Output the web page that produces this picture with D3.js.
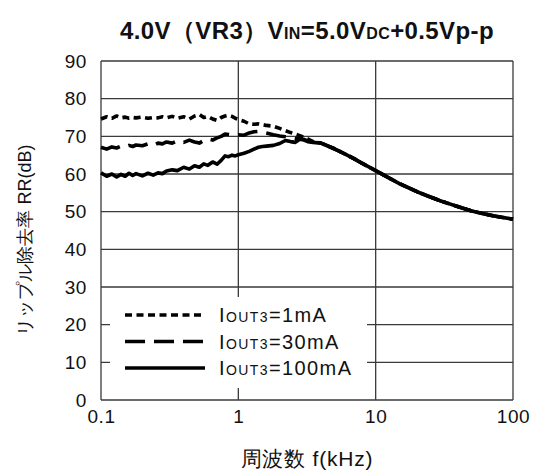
<!DOCTYPE html>
<html><head><meta charset="utf-8">
<script src="https://cdn.jsdelivr.net/npm/d3@7"></script>
<style>html,body{margin:0;padding:0;background:#fff;}svg{display:block;}</style>
</head><body>
<script>
// ---- data ----
const freqKHz = [0.10,0.11,0.12,0.13,0.14,0.15,0.16,0.17,0.18,0.20,0.22,0.24,0.26,0.28,0.30,0.33,0.36,0.40,0.44,0.48,0.52,0.56,0.60,0.65,0.70,0.75,0.80,0.85,0.90,0.95,1.0,1.1,1.2,1.3,1.4,1.5,1.6,1.8,2.0,2.2,2.4,2.6,2.8,3.0,3.2,3.5,4.0,5,6,7,8,10,12,15,20,25,30,40,50,60,70,80,100];
const highTail = [66.7,65.3,64.0,62.8,60.9,59.3,57.4,55.3,53.9,52.8,51.3,50.2,49.5,49.0,48.6,48.0];
const rr1mA = [74.6,75.2,74.8,75.4,74.9,75.1,74.8,75.0,74.9,75.1,74.8,75.0,74.9,75.2,74.9,75.3,74.8,75.2,74.6,75.4,75.8,75.0,75.3,74.6,74.2,75.0,75.4,75.6,75.3,74.8,74.5,74.0,73.3,73.2,73.3,73.1,72.9,72.7,72.1,71.5,71.0,70.6,70.2,69.8,69.3,68.6,68.2].concat(highTail);
const rr30mA = [67.1,66.6,67.2,66.9,67.4,67.2,67.6,67.3,67.7,67.5,68.0,67.6,68.2,68.0,68.5,68.2,68.8,68.4,69.0,68.5,68.2,68.9,69.3,69.0,69.6,70.0,70.6,70.5,70.4,70.3,70.4,70.3,70.9,71.2,71.3,71.1,70.9,70.4,70.1,69.9,69.7,69.5,69.4,69.2,68.8,68.5,68.2].concat(highTail);
const rr100mA = [60.3,59.4,60.0,59.2,59.9,59.4,60.2,59.6,60.1,59.5,60.2,59.7,60.3,60.1,60.8,61.1,60.9,61.8,61.3,62.2,61.8,62.7,62.3,63.2,62.6,63.6,64.8,64.6,65.0,64.8,65.1,65.5,66.0,66.6,67.1,67.3,67.4,67.6,68.1,68.9,68.6,68.4,69.2,69.0,68.6,68.4,68.2].concat(highTail);
const seriesNames = ["1mA","30mA","100mA"];
const xTicks = [0.1,1,10,100];
const xTickLabels = ["0.1","1","10","100"];
const yTicks = [0,10,20,30,40,50,60,70,80,90];

const W = 535, H = 470;
const m = {left:101, right:22, top:61, bottom:70};
const svg = d3.select("body").append("svg").attr("width",W).attr("height",H);
const x = d3.scaleLog().domain([0.1,100]).range([m.left, W-m.right]);
const y = d3.scaleLinear().domain([0,90]).range([H-m.bottom, m.top]);
const font = "'Liberation Sans', Arial, sans-serif";
const gridColor = "#3a3a3a";

// grid
const g = svg.append("g");
g.selectAll("line.h").data(yTicks).join("line")
  .attr("x1",x(0.1)).attr("x2",x(100)).attr("y1",d=>y(d)).attr("y2",d=>y(d))
  .attr("stroke",gridColor).attr("stroke-width",1.3);
g.selectAll("line.v").data(xTicks).join("line")
  .attr("x1",d=>x(d)).attr("x2",d=>x(d)).attr("y1",y(0)).attr("y2",y(90))
  .attr("stroke",gridColor).attr("stroke-width",1.3);

// axes labels via d3 axes
const yAxis = svg.append("g").attr("transform",`translate(${x(0.1)},0)`)
  .call(d3.axisLeft(y).tickValues(yTicks).tickSize(0).tickPadding(14));
const xAxis = svg.append("g").attr("transform",`translate(0,${y(0)})`)
  .call(d3.axisBottom(x).tickValues(xTicks).tickFormat((d,i)=>xTickLabels[i]).tickSize(0).tickPadding(10));
[yAxis,xAxis].forEach(a=>{a.select(".domain").remove();a.selectAll("text").attr("font-family",font).attr("font-size",19).attr("letter-spacing",0.6).attr("fill","#111");});

// curves
const line = d3.line().x((d,i)=>x(freqKHz[i])).y(d=>y(d)).curve(d3.curveLinear);
const styles = [{dash:"7,4.5"},{dash:"20,9"},{dash:null}];
const data = [rr1mA, rr30mA, rr100mA];
data.forEach((s,k)=>{
  svg.append("path").datum(s).attr("d",line).attr("fill","none")
    .attr("stroke","#000").attr("stroke-width",3.6)
    .attr("stroke-linejoin","round")
    .attr("stroke-dasharray",styles[k].dash);
});

// legend
const lg = svg.append("g");
lg.append("rect").attr("x",110).attr("y",297).attr("width",257).attr("height",91).attr("fill","#fff");
seriesNames.forEach((n,k)=>{
  const yy = 315 + k*26.5;
  lg.append("line").attr("x1",125).attr("x2",205).attr("y1",yy).attr("y2",yy)
    .attr("stroke","#000").attr("stroke-width",3.6).attr("stroke-dasharray",styles[k].dash);
  const t = lg.append("text").attr("x",219).attr("y",yy+7).attr("font-family",font).attr("font-size",20)
    .attr("letter-spacing",1.4).attr("fill","#111");
  t.append("tspan").text("I");
  t.append("tspan").attr("font-size",14).text("OUT3");
  t.append("tspan").text("="+n);
});

// title
const tt = svg.append("text").attr("x",(x(0.1)+x(100))/2).attr("y",39).attr("text-anchor","middle")
  .attr("font-family",font).attr("font-weight","bold").attr("font-size",24).attr("letter-spacing",0.4).attr("fill","#111");
tt.append("tspan").text("4.0V（VR3）V");
tt.append("tspan").attr("font-size",16).text("IN");
tt.append("tspan").text("=5.0V");
tt.append("tspan").attr("font-size",16).text("DC");
tt.append("tspan").text("+0.5Vp-p");

// axis titles
svg.append("text").attr("x",(x(0.1)+x(100))/2).attr("y",466).attr("text-anchor","middle")
  .attr("font-family",font).attr("font-size",21).attr("letter-spacing",0.8).attr("fill","#111").text("周波数 f(kHz)");
svg.append("text").attr("transform",`translate(31,240) rotate(-90)`).attr("text-anchor","middle")
  .attr("font-family",font).attr("font-size",18).attr("fill","#111").text("リップル除去率 RR(dB)");
</script>
</body></html>
